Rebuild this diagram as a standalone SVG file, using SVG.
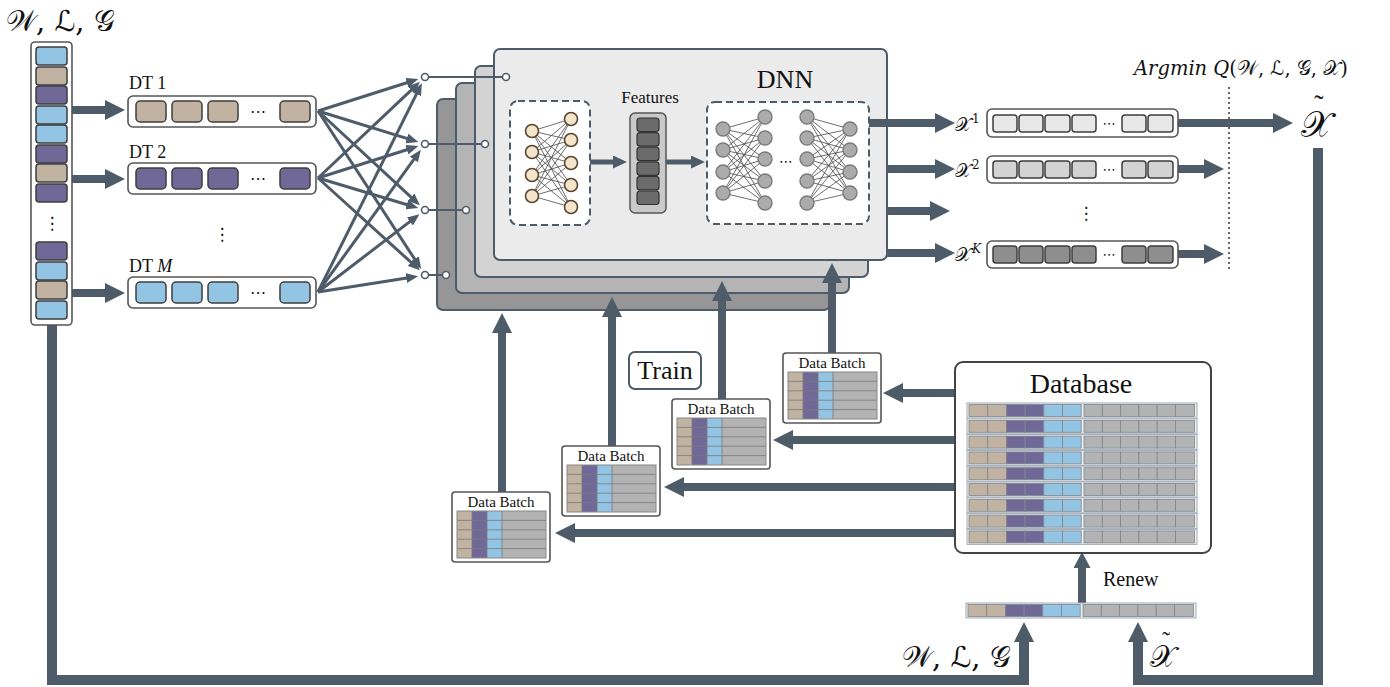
<svg xmlns="http://www.w3.org/2000/svg" xmlns:xlink="http://www.w3.org/1999/xlink" width="1390" height="687" viewBox="0 0 1390 687">
<style>
.ser{font-family:"Liberation Serif","Times New Roman",serif;fill:#111}
.math{font-family:"DejaVu Serif","DejaVu Sans","Noto Sans",serif;fill:#111}
.arr{fill:none;stroke:#4e5c6a;stroke-width:8}
.thk{fill:none;stroke:#4e5c6a;stroke-width:10;stroke-linejoin:miter}
.thin{fill:none;stroke:#4e5c6a;stroke-width:3}
.conn{fill:none;stroke:#4e5c6a;stroke-width:2}
.sc{fill:#fff;stroke:#4e5c6a;stroke-width:1.6}
.box{fill:#fff;stroke:#555;stroke-width:1.6}
.cell{stroke:#3e3e3e;stroke-width:1.5}
.be{fill:#c2b2a2}.pu{fill:#706997}.bl{fill:#93c4e4}.gr{fill:#b3b3b3}
.panel{stroke:#4e5c6a;stroke-width:2}
.dash{fill:#fff;stroke:#4e5c6a;stroke-width:2;stroke-dasharray:7 4}
.net{fill:none;stroke:#4a4a4a;stroke-width:0.8}
.nb{fill:#f4e4ca;stroke:#5a4632;stroke-width:1.6}
.ng{fill:#ababab;stroke:#7b7b7b;stroke-width:1.4}
.dbc{stroke:#7d8790;stroke-width:0.8}
.tl{stroke:#7a7a7a;stroke-width:0.8}
</style>
<defs>
<marker id="ah" markerUnits="userSpaceOnUse" viewBox="0 0 20 20" markerWidth="20" markerHeight="20" refX="8" refY="10" orient="auto"><path d="M0,0 L20,10 L0,20 z" fill="#4e5c6a"/></marker>
<marker id="ar" markerUnits="userSpaceOnUse" viewBox="0 0 16 17" markerWidth="16" markerHeight="17" refX="5" refY="8.5" orient="auto"><path d="M0,0 L16,8.5 L0,17 z" fill="#4e5c6a"/></marker>
<marker id="am" markerUnits="userSpaceOnUse" viewBox="0 0 14 13" markerWidth="14" markerHeight="13" refX="5" refY="6.5" orient="auto"><path d="M0,0 L14,6.5 L0,13 z" fill="#4e5c6a"/></marker>
<marker id="as" markerUnits="userSpaceOnUse" viewBox="0 0 12 10" markerWidth="12" markerHeight="10" refX="4" refY="5" orient="auto"><path d="M0,0 L12,5 L0,10 z" fill="#4e5c6a"/></marker>
<g id="dbrow">
<rect x="0" y="0" width="230" height="15" fill="#eef0f2" stroke="#a3acb5" stroke-width="1"/>
<rect class="be dbc" x="2" y="1.5" width="18.7" height="12"/><rect class="be dbc" x="20.7" y="1.5" width="18.7" height="12"/>
<rect class="pu dbc" x="39.4" y="1.5" width="18.7" height="12"/><rect class="pu dbc" x="58.1" y="1.5" width="18.7" height="12"/>
<rect class="bl dbc" x="76.8" y="1.5" width="18.7" height="12"/><rect class="bl dbc" x="95.5" y="1.5" width="18.7" height="12"/>
<rect class="gr dbc" x="117" y="1.5" width="18.3" height="12"/><rect class="gr dbc" x="135.3" y="1.5" width="18.3" height="12"/>
<rect class="gr dbc" x="153.6" y="1.5" width="18.3" height="12"/><rect class="gr dbc" x="171.9" y="1.5" width="18.3" height="12"/>
<rect class="gr dbc" x="190.2" y="1.5" width="18.3" height="12"/><rect class="gr dbc" x="208.5" y="1.5" width="19" height="12"/>
</g>
<g id="batch">
<rect class="box" x="0" y="0" width="98" height="70" rx="3" stroke-width="1.3"/>
<text class="ser" x="49" y="15" font-size="15" text-anchor="middle">Data Batch</text>
<rect class="be" x="5" y="19" width="15" height="47"/><rect class="pu" x="20" y="19" width="15" height="47"/>
<rect class="bl" x="35" y="19" width="15" height="47"/><rect class="gr" x="50" y="19" width="44" height="47"/>
<path class="tl" d="M5,28.4H94M5,37.8H94M5,47.2H94M5,56.6H94M20,19V66M35,19V66M50,19V66"/>
<rect x="5" y="19" width="89" height="47" fill="none" stroke="#888" stroke-width="1"/>
</g>
</defs>
<rect width="1390" height="687" fill="#fff"/>

<!-- Connectors -->
<g id="connectors">
<path class="thk" d="M52,325 V680 H1024 V634" marker-end="url(#ah)"/>
<path class="thk" d="M1318,148 V680 H1138 V634" marker-end="url(#ah)"/>
<path class="arr" d="M72,110 H113" marker-end="url(#ah)"/>
<path class="arr" d="M72,179 H113" marker-end="url(#ah)"/>
<path class="arr" d="M72,293 H113" marker-end="url(#ah)"/>
<g class="thin">
<path d="M318,111 L410.7,81.5" marker-end="url(#as)"/>
<path d="M318,111 L410.7,139.6" marker-end="url(#as)"/>
<path d="M318,111 L414,199.8" marker-end="url(#as)"/>
<path d="M318,111 L416.8,262.4" marker-end="url(#as)"/>
<path d="M318,178 L414.1,87.3" marker-end="url(#as)"/>
<path d="M318,178 L410.7,148.5" marker-end="url(#as)"/>
<path d="M318,178 L410.6,205.7" marker-end="url(#as)"/>
<path d="M318,178 L413.9,264.9" marker-end="url(#as)"/>
<path d="M318,292 L418.3,90.4" marker-end="url(#as)"/>
<path d="M318,292 L416.2,156.2" marker-end="url(#as)"/>
<path d="M318,292 L413.1,219.1" marker-end="url(#as)"/>
<path d="M318,292 L410.2,277.4" marker-end="url(#as)"/>
</g>
<path class="arr" d="M955,393 H895" marker-end="url(#ah)"/>
<path class="arr" d="M955,440 H785" marker-end="url(#ah)"/>
<path class="arr" d="M955,487 H676" marker-end="url(#ah)"/>
<path class="arr" d="M955,533 H567" marker-end="url(#ah)"/>
<path class="arr" d="M1082,603 V563" marker-end="url(#ar)"/>
</g>

<!-- Left input column -->
<g id="input">
<text class="math" x="6" y="31" font-size="29">𝒲, ℒ, 𝒢</text>
<rect class="box" x="31" y="42" width="41" height="283" rx="4"/>
<rect class="cell bl" x="36" y="47" width="31" height="18" rx="3"/>
<rect class="cell be" x="36" y="67" width="31" height="18" rx="3"/>
<rect class="cell pu" x="36" y="86" width="31" height="18" rx="3"/>
<rect class="cell bl" x="36" y="106" width="31" height="18" rx="3"/>
<rect class="cell bl" x="36" y="125" width="31" height="18" rx="3"/>
<rect class="cell pu" x="36" y="145" width="31" height="18" rx="3"/>
<rect class="cell be" x="36" y="164" width="31" height="18" rx="3"/>
<rect class="cell pu" x="36" y="184" width="31" height="18" rx="3"/>
<text class="math" x="52" y="229" font-size="17" text-anchor="middle">⋮</text>
<rect class="cell pu" x="36" y="242" width="31" height="18" rx="3"/>
<rect class="cell bl" x="36" y="262" width="31" height="18" rx="3"/>
<rect class="cell be" x="36" y="281" width="31" height="18" rx="3"/>
<rect class="cell bl" x="36" y="301" width="31" height="18" rx="3"/>
</g>

<!-- DT rows -->
<g id="dt1">
<text class="ser" x="129" y="89" font-size="18">DT 1</text>
<rect class="box" x="128" y="96" width="188" height="31" rx="5"/>
<rect class="cell be" x="136" y="101" width="30" height="21" rx="4"/>
<rect class="cell be" x="172" y="101" width="30" height="21" rx="4"/>
<rect class="cell be" x="208" y="101" width="30" height="21" rx="4"/>
<text class="math" x="258" y="117" font-size="16" text-anchor="middle">⋯</text>
<rect class="cell be" x="280" y="101" width="30" height="21" rx="4"/>
</g>
<g id="dt2">
<text class="ser" x="129" y="158" font-size="18">DT 2</text>
<rect class="box" x="128" y="163" width="188" height="31" rx="5"/>
<rect class="cell pu" x="136" y="168" width="30" height="21" rx="4"/>
<rect class="cell pu" x="172" y="168" width="30" height="21" rx="4"/>
<rect class="cell pu" x="208" y="168" width="30" height="21" rx="4"/>
<text class="math" x="258" y="184" font-size="16" text-anchor="middle">⋯</text>
<rect class="cell pu" x="280" y="168" width="30" height="21" rx="4"/>
</g>
<text class="math" x="222" y="240" font-size="17" text-anchor="middle">⋮</text>
<g id="dtM">
<text class="ser" x="129" y="272" font-size="18">DT <tspan font-style="italic">M</tspan></text>
<rect class="box" x="128" y="277" width="188" height="31" rx="5"/>
<rect class="cell bl" x="136" y="282" width="30" height="21" rx="4"/>
<rect class="cell bl" x="172" y="282" width="30" height="21" rx="4"/>
<rect class="cell bl" x="208" y="282" width="30" height="21" rx="4"/>
<text class="math" x="258" y="298" font-size="16" text-anchor="middle">⋯</text>
<rect class="cell bl" x="280" y="282" width="30" height="21" rx="4"/>
</g>

<!-- DNN stack -->
<g id="dnn-stack">
<rect class="panel" x="437" y="99" width="393" height="211" rx="6" fill="#969696"/>
<rect class="panel" x="456" y="83" width="393" height="210" rx="6" fill="#b4b4b4"/>
<rect class="panel" x="475" y="66" width="393" height="211" rx="6" fill="#d3d3d3"/>
<rect class="panel" x="494" y="49" width="393" height="211" rx="6" fill="#ebebeb"/>
<path class="conn" d="M425,77H506M425,144H485M425,210H466M425,275H446"/>
<circle class="sc" cx="425" cy="77" r="3.5"/><circle class="sc" cx="506" cy="77" r="3.5"/>
<circle class="sc" cx="425" cy="144" r="3.5"/><circle class="sc" cx="485" cy="144" r="3.5"/>
<circle class="sc" cx="425" cy="210" r="3.5"/><circle class="sc" cx="466" cy="210" r="3.5"/>
<circle class="sc" cx="425" cy="275" r="3.5"/><circle class="sc" cx="446" cy="275" r="3.5"/>
<text class="ser" x="785" y="88" font-size="26" text-anchor="middle">DNN</text>
<text class="ser" x="650" y="103" font-size="17" text-anchor="middle">Features</text>
<rect class="dash" x="510" y="101" width="80" height="124" rx="8"/>
<path class="net" d="M532,131L571,119M532,131L571,140M532,131L571,163M532,131L571,185M532,131L571,207M532,152L571,119M532,152L571,140M532,152L571,163M532,152L571,185M532,152L571,207M532,175L571,119M532,175L571,140M532,175L571,163M532,175L571,185M532,175L571,207M532,196L571,119M532,196L571,140M532,196L571,163M532,196L571,185M532,196L571,207"/>
<circle class="nb" cx="532" cy="131" r="6.5"/><circle class="nb" cx="532" cy="152" r="6.5"/><circle class="nb" cx="532" cy="175" r="6.5"/><circle class="nb" cx="532" cy="196" r="6.5"/>
<circle class="nb" cx="571" cy="119" r="6.5"/><circle class="nb" cx="571" cy="140" r="6.5"/><circle class="nb" cx="571" cy="163" r="6.5"/><circle class="nb" cx="571" cy="185" r="6.5"/><circle class="nb" cx="571" cy="207" r="6.5"/>
<path fill="none" stroke="#4e5c6a" stroke-width="5" d="M590,162H618" marker-end="url(#am)"/>
<rect x="630" y="113" width="36" height="100" rx="5" fill="#c9c9c9" stroke="#555" stroke-width="1.5"/>
<g fill="#6b6b6b" stroke="#333" stroke-width="1.2">
<rect x="637" y="118" width="22" height="13.5" rx="3"/><rect x="637" y="132.6" width="22" height="13.5" rx="3"/>
<rect x="637" y="147.2" width="22" height="13.5" rx="3"/><rect x="637" y="161.8" width="22" height="13.5" rx="3"/>
<rect x="637" y="176.4" width="22" height="13.5" rx="3"/><rect x="637" y="191" width="22" height="13.5" rx="3"/>
</g>
<path fill="none" stroke="#4e5c6a" stroke-width="5" d="M666,162H696" marker-end="url(#am)"/>
<rect class="dash" x="707" y="102" width="162" height="122" rx="8"/>
<path class="net" d="M723,129L765,117M723,129L765,138M723,129L765,159M723,129L765,181M723,129L765,203M723,150L765,117M723,150L765,138M723,150L765,159M723,150L765,181M723,150L765,203M723,172L765,117M723,172L765,138M723,172L765,159M723,172L765,181M723,172L765,203M723,193L765,117M723,193L765,138M723,193L765,159M723,193L765,181M723,193L765,203"/>
<path class="net" d="M850,129L807,117M850,129L807,138M850,129L807,159M850,129L807,181M850,129L807,203M850,150L807,117M850,150L807,138M850,150L807,159M850,150L807,181M850,150L807,203M850,172L807,117M850,172L807,138M850,172L807,159M850,172L807,181M850,172L807,203M850,193L807,117M850,193L807,138M850,193L807,159M850,193L807,181M850,193L807,203"/>
<circle class="ng" cx="723" cy="129" r="7"/><circle class="ng" cx="723" cy="150" r="7"/><circle class="ng" cx="723" cy="172" r="7"/><circle class="ng" cx="723" cy="193" r="7"/>
<circle class="ng" cx="765" cy="117" r="7"/><circle class="ng" cx="765" cy="138" r="7"/><circle class="ng" cx="765" cy="159" r="7"/><circle class="ng" cx="765" cy="181" r="7"/><circle class="ng" cx="765" cy="203" r="7"/>
<text class="math" x="786" y="166" font-size="14" text-anchor="middle">⋯</text>
<circle class="ng" cx="807" cy="117" r="7"/><circle class="ng" cx="807" cy="138" r="7"/><circle class="ng" cx="807" cy="159" r="7"/><circle class="ng" cx="807" cy="181" r="7"/><circle class="ng" cx="807" cy="203" r="7"/>
<circle class="ng" cx="850" cy="129" r="7"/><circle class="ng" cx="850" cy="150" r="7"/><circle class="ng" cx="850" cy="172" r="7"/><circle class="ng" cx="850" cy="193" r="7"/>
</g>

<!-- Output arrows from DNN -->
<g id="dnn-out">
<path class="arr" d="M869,123 H943" marker-end="url(#ah)"/>
<path class="arr" d="M887,169 H943" marker-end="url(#ah)"/>
<path class="arr" d="M887,211 H938" marker-end="url(#ah)"/>
<path class="arr" d="M887,253 H943" marker-end="url(#ah)"/>
<path class="arr" d="M1178,123 H1281" marker-end="url(#ah)"/>
<path class="arr" d="M1178,169 H1212" marker-end="url(#ah)"/>
<path class="arr" d="M1178,254 H1212" marker-end="url(#ah)"/>
</g>

<!-- Candidate outputs -->
<g id="out1">
<text class="math" x="955" y="131" font-size="19">𝒳<tspan font-size="12" dx="1" dy="-8">1</tspan></text>
<rect class="box" x="987" y="109" width="191" height="28" rx="5"/>
<g class="cell" fill="#e8e8e8"><rect x="993" y="115" width="24" height="17" rx="3"/><rect x="1019" y="115" width="24" height="17" rx="3"/><rect x="1045" y="115" width="25" height="17" rx="3"/><rect x="1072" y="115" width="24" height="17" rx="3"/><rect x="1122" y="115" width="24" height="17" rx="3"/><rect x="1148" y="115" width="25" height="17" rx="3"/></g>
<text class="math" x="1109" y="128" font-size="13" text-anchor="middle">⋯</text>
</g>
<g id="out2">
<text class="math" x="955" y="177" font-size="19">𝒳<tspan font-size="12" dx="1" dy="-8">2</tspan></text>
<rect class="box" x="987" y="156" width="191" height="27" rx="5"/>
<g class="cell" fill="#d3d3d3"><rect x="993" y="161" width="24" height="17" rx="3"/><rect x="1019" y="161" width="24" height="17" rx="3"/><rect x="1045" y="161" width="25" height="17" rx="3"/><rect x="1072" y="161" width="24" height="17" rx="3"/><rect x="1122" y="161" width="24" height="17" rx="3"/><rect x="1148" y="161" width="25" height="17" rx="3"/></g>
<text class="math" x="1109" y="174" font-size="13" text-anchor="middle">⋯</text>
</g>
<text class="math" x="1086" y="219" font-size="17" text-anchor="middle">⋮</text>
<g id="outK">
<text class="math" x="955" y="261" font-size="19">𝒳<tspan font-size="12" dx="1" dy="-8" font-style="italic">K</tspan></text>
<rect class="box" x="987" y="241" width="191" height="27" rx="5"/>
<g class="cell" fill="#8e8e8e"><rect x="993" y="246" width="24" height="17" rx="3"/><rect x="1019" y="246" width="24" height="17" rx="3"/><rect x="1045" y="246" width="25" height="17" rx="3"/><rect x="1072" y="246" width="24" height="17" rx="3"/><rect x="1122" y="246" width="24" height="17" rx="3"/><rect x="1148" y="246" width="25" height="17" rx="3"/></g>
<text class="math" x="1109" y="259" font-size="13" text-anchor="middle">⋯</text>
</g>

<!-- Argmin selection -->
<g id="argmin">
<text class="math" x="1134" y="75" font-size="19.5"><tspan font-style="italic">Argmin Q</tspan>(𝒲, ℒ, 𝒢, 𝒳)</text>
<line x1="1229" y1="87" x2="1229" y2="270" stroke="#666" stroke-width="2" stroke-dasharray="2 3"/>
<text class="math" x="1316" y="137" font-size="36" text-anchor="middle">𝒳</text>
<text class="ser" x="1319" y="114" font-size="28" text-anchor="middle">˜</text>
</g>

<!-- Train -->
<g id="train">
<rect x="629" y="352" width="72" height="37" rx="6" fill="#fff" stroke="#4e5c6a" stroke-width="2"/>
<text class="ser" x="665" y="379" font-size="26" text-anchor="middle">Train</text>
</g>

<!-- Data batches -->
<g id="batch1"><use xlink:href="#batch" x="452" y="492"/></g>
<g id="batch2"><use xlink:href="#batch" x="562" y="446"/></g>
<g id="batch3"><use xlink:href="#batch" x="672" y="399"/></g>
<g id="batch4"><use xlink:href="#batch" x="783" y="353"/></g>

<g id="batch-arrows">
<path class="arr" d="M502,492 V325" marker-end="url(#ah)"/>
<path class="arr" d="M612,446 V309" marker-end="url(#ah)"/>
<path class="arr" d="M722,399 V293" marker-end="url(#ah)"/>
<path class="arr" d="M832,353 V275" marker-end="url(#ah)"/>
</g>

<!-- Database -->
<g id="database">
<rect x="955" y="362" width="256" height="191" rx="8" fill="#fff" stroke="#444" stroke-width="2"/>
<text class="ser" x="1081" y="393" font-size="28" text-anchor="middle">Database</text>
<use xlink:href="#dbrow" x="967" y="403"/>
<use xlink:href="#dbrow" x="967" y="418.8"/>
<use xlink:href="#dbrow" x="967" y="434.6"/>
<use xlink:href="#dbrow" x="967" y="450.4"/>
<use xlink:href="#dbrow" x="967" y="466.2"/>
<use xlink:href="#dbrow" x="967" y="482"/>
<use xlink:href="#dbrow" x="967" y="497.8"/>
<use xlink:href="#dbrow" x="967" y="513.6"/>
<use xlink:href="#dbrow" x="967" y="529.4"/>
</g>

<!-- Renew -->
<g id="renew">
<use xlink:href="#dbrow" x="966" y="603"/>
<text class="ser" x="1103" y="586" font-size="20">Renew</text>
</g>

<!-- Bottom labels -->
<g id="bottom-labels">
<text class="math" x="902" y="667" font-size="29">𝒲, ℒ, 𝒢</text>
<text class="math" x="1163" y="667" font-size="30" text-anchor="middle">𝒳</text>
<text class="ser" x="1166" y="648" font-size="24" text-anchor="middle">˜</text>
</g>
</svg>
